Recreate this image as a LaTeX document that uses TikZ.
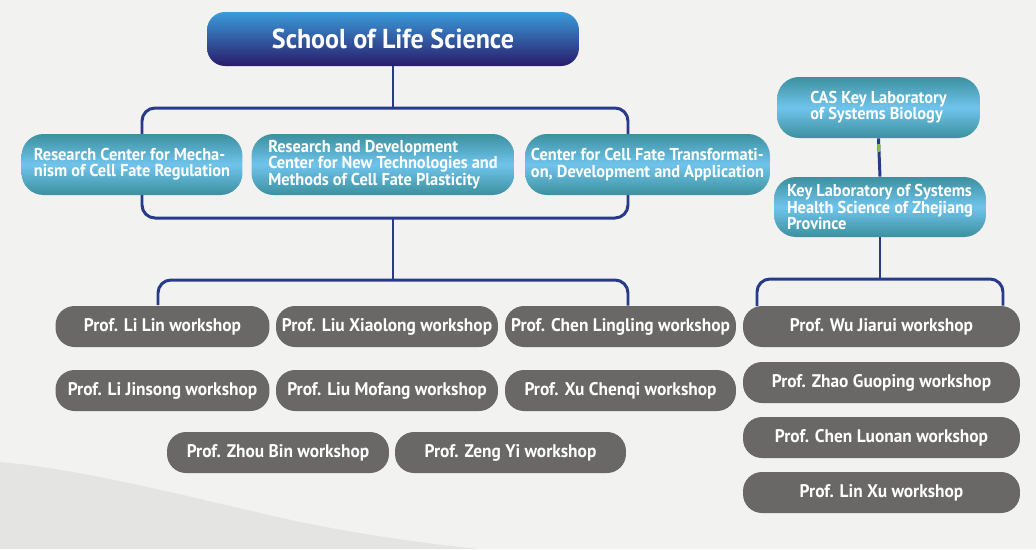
\documentclass[tikz,border=0pt]{standalone}
\usepackage{fontspec}
\setmainfont[FakeStretch=0.95]{PT Sans}
\usetikzlibrary{positioning,calc}

\definecolor{paper}{HTML}{F2F2F0}
\definecolor{hill}{HTML}{E4E4E2}
\definecolor{navy}{HTML}{283B8A}
\definecolor{hubtop}{HTML}{3A9BDA}
\definecolor{hubbot}{HTML}{2A1B6A}
\definecolor{tealA}{HTML}{3C909E}
\definecolor{tealB}{HTML}{70C4EC}
\definecolor{shopgray}{HTML}{696866}
\definecolor{leaf}{HTML}{7DC242}

\pgfdeclarelayer{paperlayer}
\pgfdeclarelayer{wires}
\pgfsetlayers{paperlayer,wires,main}

\begin{document}
\begin{tikzpicture}[x=0.02cm,y=-0.02cm,
	hub/.style={rounded corners=0.36cm, top color=hubtop, bottom color=hubbot, text=white,
		minimum width=7.44cm, minimum height=1.08cm, font=\fontsize{15.6}{19}\selectfont\bfseries},
	centre/.style={rounded corners=0.44cm, top color=tealA, bottom color=tealA, middle color=tealB,
		text=white, align=left, inner sep=0pt, minimum height=1.22cm,
		font=\fontsize{9.8}{9.2}\selectfont\bfseries},
	shop/.style={rounded corners=0.38cm, fill=shopgray, text=white, inner sep=0pt,
		minimum height=0.82cm, font=\fontsize{10.4}{12}\selectfont\bfseries},
	bus/.style={draw=navy, line width=1.7pt}]
		\useasboundingbox (0,0) rectangle (1036,549);
		\begin{pgfonlayer}{paperlayer}
			\fill[paper] (0,0) rectangle (1036,549);
			\fill[hill] (0,462) .. controls (90,470) and (200,500) .. (300,522) .. controls (380,538) and (440,545) .. (480,549) -- (0,549) -- cycle;
		\end{pgfonlayer}

		\draw (393,39) 		node (school) [hub] {School of Life Science};
		\draw (132,164.5) 	node (mech) [centre,minimum width=4.42cm] {Research Center for Mecha-\\nism of Cell Fate Regulation};
		\draw (383,164.5) 	node (rnd) [centre,minimum width=5.26cm] {Research and Development\\Center for New Technologies and\\Methods of Cell Fate Plasticity};
		\draw (647.5,164.5) node (trans) [centre,minimum width=4.9cm] {Center for Cell Fate Transformati-\\on, Development and Application};
		\draw (878.5,107.5) node (cas) [centre,minimum width=4.06cm] {CAS Key Laboratory\\of Systems Biology};
		\draw (880,207) 		node (zj) [centre,minimum width=4.24cm,minimum height=1.2cm] {Key Laboratory of Systems\\Health Science of Zhejiang\\Province};

		\draw (162.5,326.5) node (lilin) [shop,minimum width=4.28cm] {Prof. Li Lin workshop};
		\draw (387,326.5) 	node (liuxl) [shop,minimum width=4.44cm] {Prof. Liu Xiaolong workshop};
		\draw (620.5,326.5) node (chenll) [shop,minimum width=4.62cm] {Prof. Chen Lingling workshop};
		\draw (162.5,390.5) node (lijs) [shop,minimum width=4.28cm] {Prof. Li Jinsong workshop};
		\draw (387,390.5) 	node (liumf) [shop,minimum width=4.44cm] {Prof. Liu Mofang workshop};
		\draw (620.5,390.5) node (xucq) [shop,minimum width=4.62cm] {Prof. Xu Chenqi workshop};
		\draw (278,452.5) 	node (zhoub) [shop,minimum width=4.44cm] {Prof. Zhou Bin workshop};
		\draw (510.5,452.5) node (zengy) [shop,minimum width=4.62cm] {Prof. Zeng Yi workshop};

		\draw (881.5,326.5) node (wujr) [shop,minimum width=5.54cm] {Prof. Wu Jiarui workshop};
		\draw (881.5,382.5) node (zhaogp) [shop,minimum width=5.54cm] {Prof. Zhao Guoping workshop};
		\draw (881.5,437.5) node (chenln) [shop,minimum width=5.54cm] {Prof. Chen Luonan workshop};
		\draw (881.5,492.5) node (linxu) [shop,minimum width=5.54cm] {Prof. Lin Xu workshop};

		\coordinate (busA) at (142,108);
		\coordinate (busB) at (628,218);
		\coordinate (busC) at (158,305);
		\coordinate (busD) at (628,280);
		\coordinate (busE) at (757,306);
		\coordinate (busF) at (1003,279);

		\begin{pgfonlayer}{wires}
			\draw[bus] (school.south) -- (school.south |- busA);
			\draw[bus,rounded corners=0.26cm] (busA) rectangle (busB);
			\draw[bus] (school.south |- busB) -- (school.south |- busD);
			\draw[bus,rounded corners=0.26cm] (busC) |- (busD) -- (busD |- chenll.north);
			\draw[bus] (cas.south) -- (zj.north);
			\draw[leaf,line width=1.7pt] ($(cas.south)!0.15!(zj.north)$) -- ($(cas.south)!0.35!(zj.north)$);
			\draw[bus] (zj.south) -- (zj.south |- busF);
			\draw[bus,rounded corners=0.26cm] (busE) |- (busF) -- (busF |- wujr.north);
		\end{pgfonlayer}
	 \end{tikzpicture}
\end{document}
